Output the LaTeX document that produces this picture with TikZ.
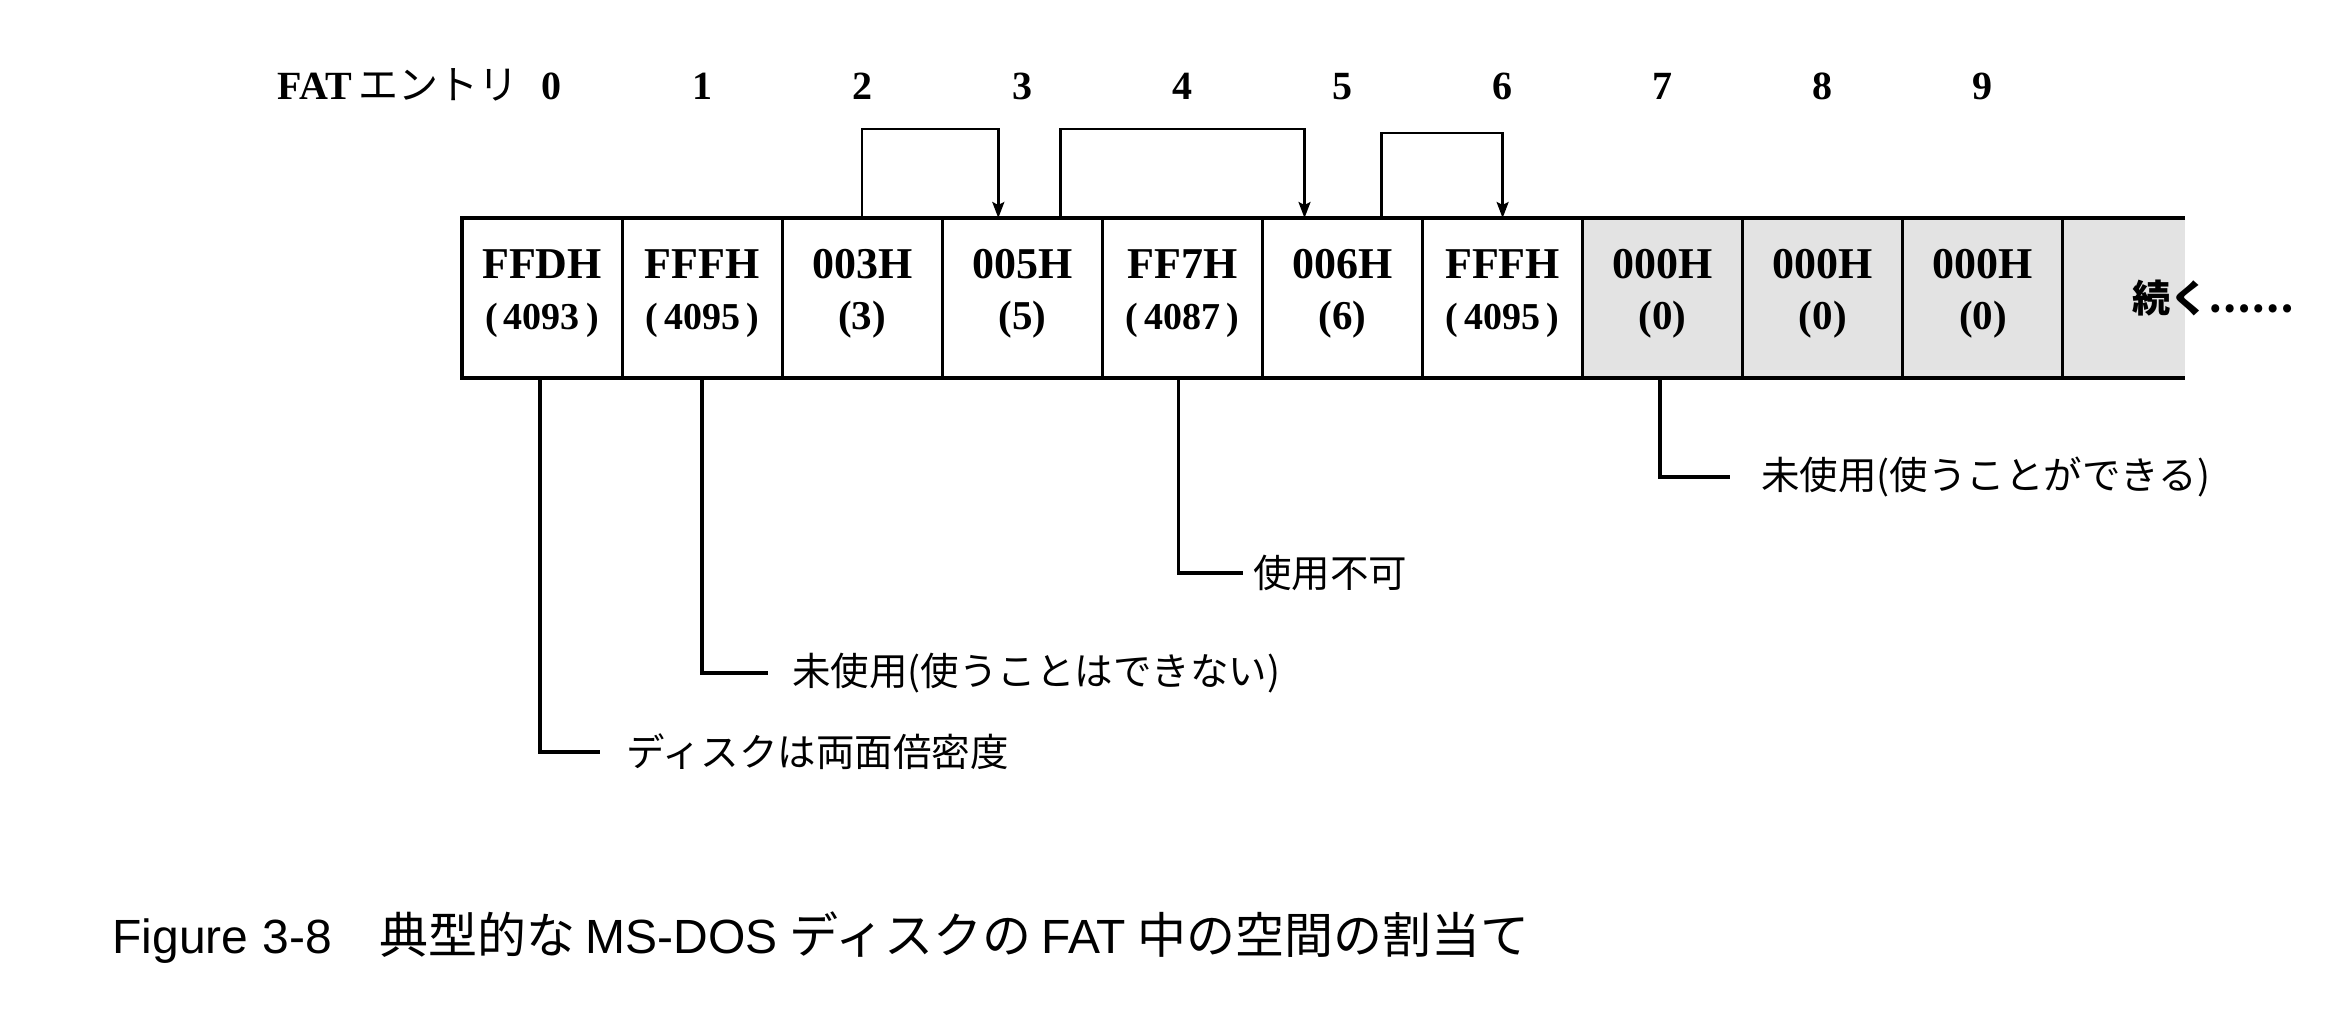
\documentclass[tikz,border=0pt]{standalone}
\usepackage{fontspec}
\setmainfont{Liberation Serif}
\newfontfamily\jp{Noto Sans CJK JP}
\newfontfamily\capsans{Liberation Sans}
\usetikzlibrary{arrows.meta}
\newcommand\capjp[1]{{\jp\fontsize{24.5pt}{28pt}\selectfont #1}}
\begin{document}
\begin{tikzpicture}[x=0.5pt,y=-0.5pt,
  cellbox/.style={minimum width=80pt,minimum height=80pt,inner sep=0pt,outer sep=0pt},
  stipple/.style={fill=black!11},
  frame/.style={line width=2pt,line join=miter},
  divider/.style={line width=1.5pt},
  hexval/.style={font=\fontsize{22pt}{24pt}\selectfont\bfseries,inner sep=0pt},
  decs/.style={font=\fontsize{19pt}{22pt}\selectfont\bfseries,inner sep=0pt},
  decl/.style={font=\fontsize{20.5pt}{23pt}\selectfont\bfseries,inner sep=0pt},
  hdr/.style={font=\fontsize{20pt}{23pt}\selectfont\bfseries,inner sep=0pt},
  link/.style={line width=1.2pt,-{Stealth[length=8pt,width=6pt,inset=1.5pt]}},
  leader/.style={line width=1.8pt},
  note/.style={font=\jp\fontsize{19.25pt}{22pt}\selectfont,inner sep=0pt,anchor=west}]

\useasboundingbox[fill=white] (0,0) rectangle (2335,1026);

% FAT cells 0..9 and the open-ended continuation cell
\foreach \i in {0,...,9}
  \node[cellbox] (c\i) at ({542+160.1*\i},298) {};
\node[cellbox,minimum width=61pt] (cc) at (2124,298) {};
\fill[stipple] (c7.north west) rectangle (cc.south east);

% table outline
\draw[frame] (cc.north east) -- (c0.north west) -- (c0.south west) -- (cc.south east);
\foreach \i in {0,...,9}
  \draw[divider] (c\i.north east) -- (c\i.south east);

% cell contents: hexadecimal value and decimal value
\foreach \i/\hx/\dec/\ds in {0/FFDH/(\,4093\,)/decs, 1/FFFH/(\,4095\,)/decs,
    2/003H/(3)/decl, 3/005H/(5)/decl, 4/FF7H/(\,4087\,)/decs, 5/006H/(6)/decl,
    6/FFFH/(\,4095\,)/decs, 7/000H/(0)/decl, 8/000H/(0)/decl, 9/000H/(0)/decl} {
  \node[hexval] (h\i) at ([yshift=17pt]c\i.center) {\hx};
  \node[\ds] (d\i) at ([yshift=-11pt]c\i.center) {\dec};
}
\node[font=\jp\bfseries\fontsize{19pt}{22pt}\selectfont,inner sep=0pt,anchor=west]
  (more) at ([xshift=34.5pt]cc.west) {続く……};

% entry numbers
\coordinate (hbase) at (0,100);
\node[hdr,anchor=base east] (fat) at (519,100) {FAT\,{\jp\mdseries エントリ}};
\node[hdr,anchor=base] (n0) at ([xshift=4.5pt]c0.center |- hbase) {0};
\foreach \i in {1,...,9}
  \node[hdr,anchor=base] (n\i) at (c\i.center |- hbase) {\i};

% cluster chain links
\draw[link] (c2.north) -- ++(0,-89) -| ([xshift=-12pt]c3.north);
\draw[link] ([xshift=19pt]c3.north) -- ++(0,-89) -| ([xshift=-19pt]c5.north);
\draw[link] ([xshift=19.5pt]c5.north) -- ++(0,-85) -| (c6.north);

% explanatory notes
\node[note] (t0) at (626,752) {ディスクは両面倍密度};
\node[note] (t1) at (792,673) {未使用(使うことはできない)};
\node[note] (t4) at (1253,573) {使用不可};
\node[note] (t7) at (1761,477) {未使用(使うことができる)};
\draw[leader] ([xshift=-1pt]c0.south) |- ([xshift=-13pt]t0.west);
\draw[leader] (c1.south) |- ([xshift=-12pt]t1.west);
\draw[leader] ([xshift=-2pt]c4.south) |- ([xshift=-5pt]t4.west);
\draw[leader] ([xshift=-1.5pt]c7.south) |- ([xshift=-15.5pt]t7.west);

% caption
\node[anchor=base west,inner sep=0pt,font=\capsans\fontsize{24pt}{27pt}\selectfont]
  (cap) at (112,953)
  {Figure\hspace{7pt}3-8\hspace{24pt}\capjp{典型的な}\hspace{5pt}MS-DOS\hspace{6pt}\capjp{ディスクの}\hspace{5pt}FAT\hspace{6pt}\capjp{中の空間の割当て}};
\end{tikzpicture}
\end{document}
